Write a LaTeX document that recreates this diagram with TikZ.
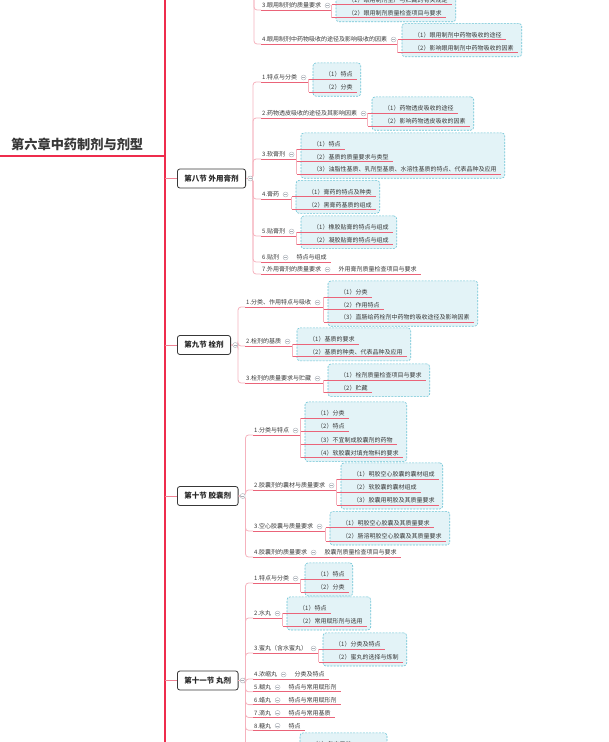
\documentclass[tikz,border=0pt]{standalone}
\usepackage{fontspec}
\setmainfont{Noto Sans CJK SC}
\usetikzlibrary{positioning,fit,backgrounds}
\definecolor{spinered}{HTML}{EE2C4C}
\definecolor{branchpink}{HTML}{F5B2BD}
\definecolor{linered}{HTML}{EA6479}
\definecolor{boxfill}{HTML}{E3F3F7}
\definecolor{boxline}{HTML}{6BC3D5}
\definecolor{textgray}{HTML}{383838}
\definecolor{foldgray}{HTML}{A9AFB6}

\begin{document}
\begin{tikzpicture}[
    x=1pt, y=-1pt,
    root_style/.style={anchor=south west, inner xsep=11pt, inner ysep=5pt, font=\fontsize{13.2}{15}\selectfont\bfseries, text=textgray},
    sect_style/.style={draw=textgray, line width=0.8pt, rounded corners=2.5pt, fill=white, anchor=west, minimum height=19pt, inner xsep=7pt, font=\fontsize{7.5}{9}\selectfont\bfseries, text=black!85},
    item_style/.style={anchor=south west, inner xsep=1pt, inner ysep=1.5pt, font=\fontsize{6}{7}\selectfont, text=textgray},
    leaf_style/.style={item_style, inner xsep=4pt},
    group_style/.style={draw=boxline, dash pattern=on 2pt off 1.2pt, line width=0.6pt, fill=boxfill, rounded corners=3pt, inner xsep=6pt, inner ysep=5.5pt, xshift=-2pt, yshift=1.5pt},
    fold_style/.style={circle, draw=foldgray, line width=0.4pt, fill=white, minimum size=5pt, inner sep=0pt,
        path picture={\draw[foldgray, line width=0.4pt] ([xshift=-1.3pt]path picture bounding box.center) -- ([xshift=1.3pt]path picture bounding box.center);}},
    spine_style/.style={branchpink, line width=0.8pt, rounded corners=3pt},
    uline_style/.style={linered, line width=0.8pt},
    kid_style/.style={linered, line width=0.7pt},
    bracket_style/.style={branchpink, line width=0.7pt},
    sect_link/.style={linered!80!white, line width=1pt}
]
\useasboundingbox (0,0) rectangle (609,742);
% tronc principal
\coordinate (mainTop) at (165,-5);
\coordinate (mainBot) at (165,750);
\draw[spinered, line width=2.6pt] (mainTop) -- (mainBot);
\node[root_style] (root) at (0,156) {第六章中药制剂与剂型};
\draw[spinered, line width=2pt] (root.south west) -- (root.south west -| mainTop);

% sections
\node[sect_style] (s8) at (177,178.5) {第八节 外用膏剂};
\node[sect_style] (s9) at (177,345) {第九节 栓剂};
\node[sect_style] (s10) at (177,496) {第十节 胶囊剂};
\node[sect_style] (s11) at (177,680.5) {第十一节 丸剂};
\foreach \s in {s8,s9,s10,s11} {
    \coordinate (\s-k) at ([xshift=7pt]\s.east);
    \draw[sect_link] (\s.west -| mainTop) -- (\s.west);
}
\coordinate (s7-k) at (254,-30);

% section du haut (coupee)
\node[item_style] (t3) at (261,10) {3.眼用制剂的质量要求};
\node[item_style] (t4) at (261,44) {4.眼用制剂中药物吸收的途径及影响吸收的因素};
\foreach \t [count=\k] in {（1）眼用制剂生产与贮藏的有关规定,（2）眼用制剂质量检查项目与要求}
    \node[leaf_style] (t3-\k) at (344,4.5+13.2*\k-13.2) {\t};
\foreach \t [count=\k] in {（1）眼用制剂中药物吸收的途径,（2）影响眼用制剂中药物吸收的因素}
    \node[leaf_style] (t4-\k) at (410,39.5+13.2*\k-13.2) {\t};

% 第八节
\node[item_style] (a1) at (261,82) {1.特点与分类};
\node[item_style] (a2) at (261,118) {2.药物透皮吸收的途径及其影响因素};
\node[item_style] (a3) at (261,159) {3.软膏剂};
\node[item_style] (a4) at (261,199) {4.膏药};
\node[item_style] (a5) at (261,236) {5.贴膏剂};
\node[item_style] (a6) at (261,262) {6.贴剂};
\node[item_style] (a7) at (261,274) {7.外用膏剂的质量要求};
\foreach \t [count=\k] in {（1）特点,（2）分类}
    \node[leaf_style] (a1-\k) at (321,79+13.2*\k-13.2) {\t};
\foreach \t [count=\k] in {（1）药物透皮吸收的途径,（2）影响药物透皮吸收的因素}
    \node[leaf_style] (a2-\k) at (380,113+13.2*\k-13.2) {\t};
\foreach \t [count=\k] in {（1）特点,（2）基质的质量要求与类型,（3）油脂性基质、乳剂型基质、水溶性基质的特点、代表品种及应用}
    \node[leaf_style] (a3-\k) at (309,149+12.6*\k-12.6) {\t};
\foreach \t [count=\k] in {（1）膏药的特点及种类,（2）黑膏药基质的组成}
    \node[leaf_style] (a4-\k) at (304,196.5+12.8*\k-12.8) {\t};
\foreach \t [count=\k] in {（1）橡胶贴膏的特点与组成,（2）凝胶贴膏的特点与组成}
    \node[leaf_style] (a5-\k) at (309,232+12.6*\k-12.6) {\t};

% 第九节
\node[item_style] (b1) at (245,307) {1.分类、作用特点与吸收};
\node[item_style] (b2) at (245,346) {2.栓剂的基质};
\node[item_style] (b3) at (245,383) {3.栓剂的质量要求与贮藏};
\foreach \t [count=\k] in {（1）分类,（2）作用特点,（3）直肠给药栓剂中药物的吸收途径及影响因素}
    \node[leaf_style] (b1-\k) at (336,297+12.6*\k-12.6) {\t};
\foreach \t [count=\k] in {（1）基质的要求,（2）基质的种类、代表品种及应用}
    \node[leaf_style] (b2-\k) at (305,344+12.8*\k-12.8) {\t};
\foreach \t [count=\k] in {（1）栓剂质量检查项目与要求,（2）贮藏}
    \node[leaf_style] (b3-\k) at (336,380+12.6*\k-12.6) {\t};

% 第十节
\node[item_style] (c1) at (253,435) {1.分类与特点};
\node[item_style] (c2) at (253,490) {2.胶囊剂的囊材与质量要求};
\node[item_style] (c3) at (253,531) {3.空心胶囊与质量要求};
\node[item_style] (c4) at (253,557) {4.胶囊剂的质量要求};
\foreach \t [count=\k] in {（1）分类,（2）特点,（3）不宜制成胶囊剂的药物,（4）软胶囊对填充物料的要求}
    \node[leaf_style] (c1-\k) at (313,418+13.2*\k-13.2) {\t};
\foreach \t [count=\k] in {（1）明胶空心胶囊的囊材组成,（2）软胶囊的囊材组成,（3）胶囊用明胶及其质量要求}
    \node[leaf_style] (c2-\k) at (349,479+13*\k-13) {\t};
\foreach \t [count=\k] in {（1）明胶空心胶囊及其质量要求,（2）肠溶明胶空心胶囊及其质量要求}
    \node[leaf_style] (c3-\k) at (338,527.5+13.5*\k-13.5) {\t};

% 第十一节
\node[item_style] (d1) at (253,583) {1.特点与分类};
\node[item_style] (d2) at (253,618) {2.水丸};
\node[item_style] (d3) at (253,653) {3.蜜丸（含水蜜丸）};
\node[item_style] (d4) at (253,679) {4.浓缩丸};
\node[item_style] (d5) at (253,691.8) {5.糊丸};
\node[item_style] (d6) at (253,704.6) {6.蜡丸};
\node[item_style] (d7) at (253,717.4) {7.滴丸};
\node[item_style] (d8) at (253,730.2) {8.糖丸};
\foreach \t [count=\k] in {（1）特点,（2）分类}
    \node[leaf_style] (d1-\k) at (313,579+13*\k-13) {\t};
\foreach \t [count=\k] in {（1）特点,（2）常用赋形剂与选用}
    \node[leaf_style] (d2-\k) at (295,613+13*\k-13) {\t};
\foreach \t [count=\k] in {（1）分类及特点,（2）蜜丸的选择与炼制}
    \node[leaf_style] (d3-\k) at (331,649+13*\k-13) {\t};
\node[leaf_style] (d9-1) at (308,749) {（1）包衣目的};
\coordinate (d9-w) at (383,752);

% branches
\foreach \g in {t3,t4}
    \draw[spine_style] (s7-k) |- (\g.south west);
\foreach \g in {a1,a2,a3,a4,a5,a6,a7}
    \draw[spine_style] (s8.east) -- (s8-k) |- (\g.south west);
\foreach \g in {b1,b2,b3}
    \draw[spine_style] (s9.east) -- (s9-k) |- (\g.south west);
\foreach \g in {c1,c2,c3,c4}
    \draw[spine_style] (s10.east) -- (s10-k) |- (\g.south west);
\foreach \g in {d1,d2,d3,d4,d5,d6,d7,d8}
    \draw[spine_style] (s11.east) -- (s11-k) |- (\g.south west);
\draw[spine_style] (s11-k) -- (s11-k |- mainBot);

% icones de repli
\foreach \g in {t3,t4,a1,a2,a3,a4,a5,a6,a7,b1,b2,b3,c1,c2,c3,c4,d1,d2,d3,d4,d5,d6,d7,d8}
    \node[fold_style, right=2.5pt of \g] (\g-f) {};
\foreach \s in {s8,s9,s10,s11}
    \node[fold_style, right=1.5pt of \s] (\s-f) {};

% sujets a une seule note
\foreach \g/\t in {a6/特点与组成,a7/外用膏剂质量检查项目与要求,c4/胶囊剂质量检查项目与要求,d4/分类及特点,d5/特点与常用赋形剂,d6/特点与常用赋形剂,d7/特点与常用基质,d8/特点} {
    \node[leaf_style, xshift=4pt] (\g-n) at (\g-f.east |- \g.south) {\t};
    \draw[uline_style] (\g.south west) -- (\g-n.south east);
}

% cadres des sous-sujets
\foreach \g/\n in {t3/2,t4/2,a1/2,a2/2,a3/3,a4/2,a5/2,b1/3,b2/2,b3/2,c1/4,c2/3,c3/2,d1/2,d2/2,d3/2} {
    \begin{scope}[on background layer]
        \node[group_style, fit=(\g-1)(\g-\n)] (\g-b) {};
    \end{scope}
    \coordinate (\g-k) at ([xshift=-4pt]\g-b.west);
    \draw[uline_style] (\g.south west) -- (\g-k |- \g.south);
    \draw[bracket_style] (\g-k |- \g-1.south) -- (\g-k |- \g-\n.south);
    \foreach \k in {1,...,\n}
        \draw[kid_style] (\g-k |- \g-\k.south) -- (\g-\k.south east);
}
\begin{scope}[on background layer]
    \node[group_style, fit=(d9-1)(d9-w)] (d9-b) {};
\end{scope}
\end{tikzpicture}
\end{document}
